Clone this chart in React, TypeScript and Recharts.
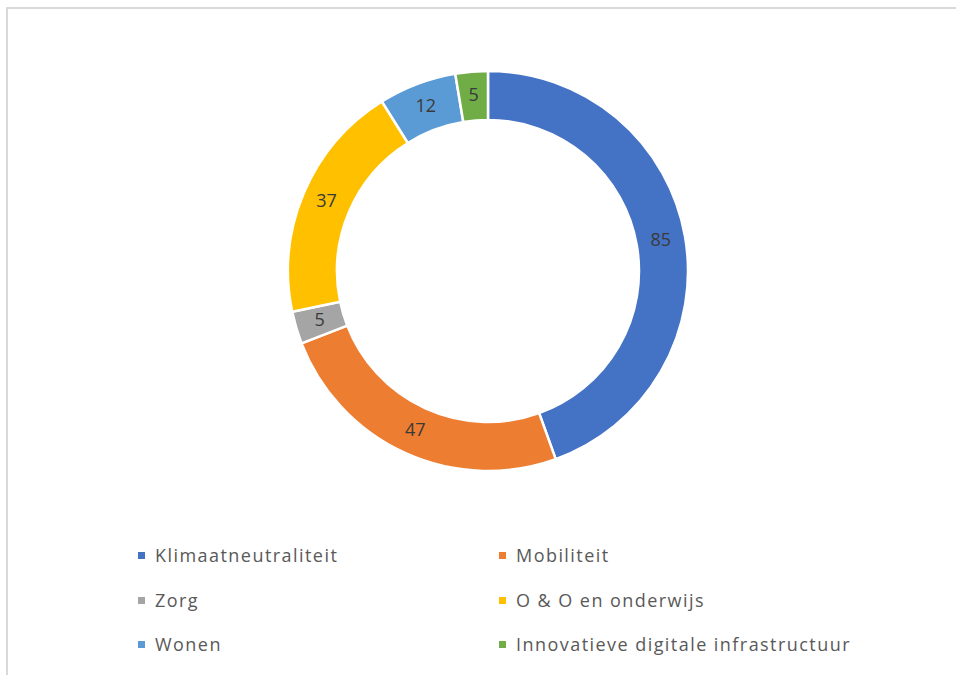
import React from 'react';
import { PieChart, Pie, Cell, Legend } from 'recharts';

const categories = [
  'Klimaatneutraliteit',
  'Mobiliteit',
  'Zorg',
  'O & O en onderwijs',
  'Wonen',
  'Innovatieve digitale infrastructuur',
];
const values = [85, 47, 5, 37, 12, 5];
const colors = ['#4472C4', '#ED7D31', '#A5A5A5', '#FFC000', '#5B9BD5', '#70AD47'];

const data = categories.map((name, i) => ({ name, value: values[i] }));

const RAD = Math.PI / 180;
const renderLabel = (props: any) => {
  const { cx, cy, midAngle, innerRadius, outerRadius, value } = props;
  const r = (innerRadius + outerRadius) / 2;
  const x = cx + r * Math.cos(-midAngle * RAD);
  const y = cy + r * Math.sin(-midAngle * RAD);
  return (
    <text
      x={x}
      y={y - 2}
      fill="#3a3a3a"
      fontSize={18}
      fontWeight={500}
      fontFamily="'Open Sans', sans-serif"
      textAnchor="middle"
      dominantBaseline="central"
    >
      {value}
    </text>
  );
};

const LegendContent = () => {
  const colX = [130, 491];
  const rowY = [546, 591, 635];
  return (
    <div style={{ position: 'relative', width: 948, height: 666 }}>
      {categories.map((c, i) => {
        const col = i % 2;
        const row = Math.floor(i / 2);
        return (
          <div
            key={c}
            style={{
              position: 'absolute',
              left: colX[col],
              top: rowY[row] - 12,
              height: 24,
              display: 'flex',
              alignItems: 'center',
              whiteSpace: 'nowrap',
              fontFamily: "'Open Sans', sans-serif",
              fontSize: 18,
              letterSpacing: 1.45,
              color: '#595959',
            }}
          >
            <span
              style={{
                display: 'inline-block',
                width: 7,
                height: 7,
                background: colors[i],
                marginRight: 10,
              }}
            />
            {c}
          </div>
        );
      })}
    </div>
  );
};

export default function App() {
  return (
    <div
      style={{
        position: 'absolute',
        left: 6,
        top: 7,
        width: 950,
        height: 668,
        borderLeft: '2px solid #d9d9d9',
        borderTop: '2px solid #d9d9d9',
        background: '#fff',
        boxSizing: 'border-box',
      }}
    >
      <PieChart width={948} height={666} margin={{ top: 0, right: 0, bottom: 0, left: 0 }}>
        <Pie
          data={data}
          dataKey="value"
          nameKey="name"
          cx={480}
          cy={262}
          innerRadius={151}
          outerRadius={200}
          startAngle={90}
          endAngle={-270}
          stroke="#ffffff"
          strokeWidth={2.5}
          label={renderLabel}
          labelLine={false}
          isAnimationActive={false}
        >
          {data.map((d, i) => (
            <Cell key={d.name} fill={colors[i]} />
          ))}
        </Pie>
        <Legend
          content={<LegendContent />}
          wrapperStyle={{ position: 'absolute', left: 0, top: 0, width: 948, height: 666 }}
        />
      </PieChart>
    </div>
  );
}
